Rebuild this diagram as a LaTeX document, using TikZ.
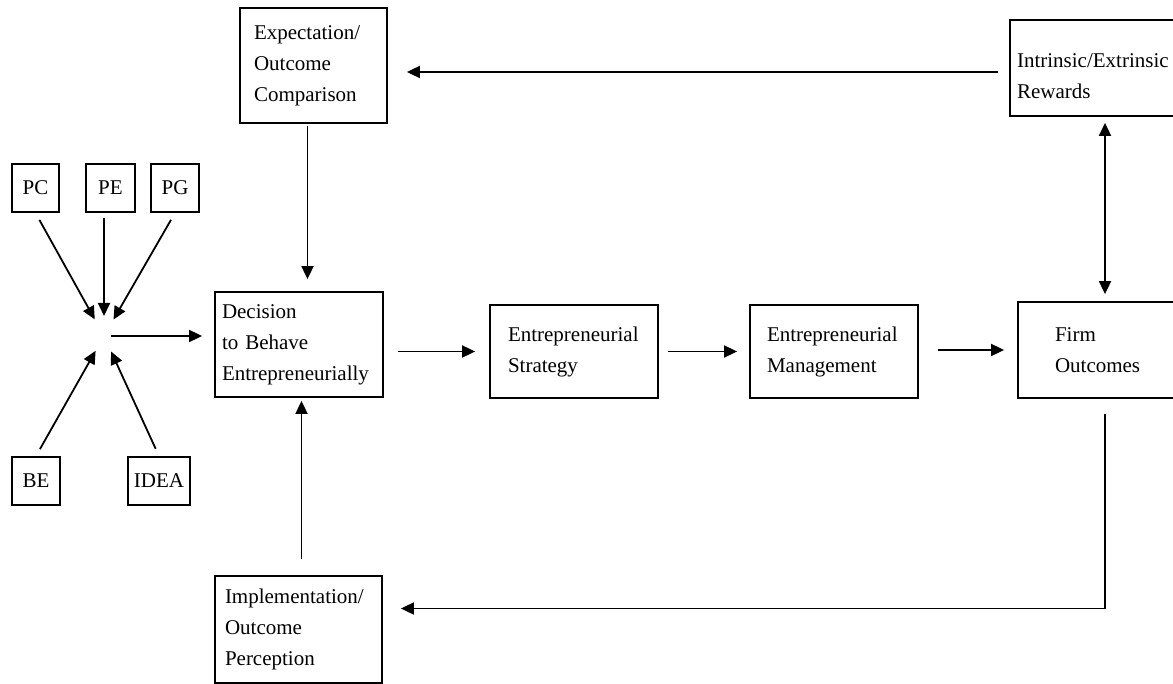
\documentclass[tikz,border=0pt]{standalone}
\usepackage{fontspec}
\setmainfont{Liberation Serif}
\usetikzlibrary{arrows.meta}
\tikzset{
  box/.style={draw,line width=1.8pt,align=left,inner ysep=0pt,font=\fontsize{21}{31}\selectfont},
  small/.style={draw,line width=1.8pt,inner sep=0pt,minimum height=48pt,font=\fontsize{21}{25}\selectfont},
}
\begin{document}
\begin{tikzpicture}[x=1pt,y=-1pt,>={Triangle[length=13pt,width=12pt]},line width=1.8pt]
\useasboundingbox (0,0) rectangle (1173,684);
\node[small,minimum width=47pt] (pc) at (35.5,188){PC};
\node[small,minimum width=49pt] (pe) at (110.5,188){PE};
\node[small,minimum width=48pt] (pg) at (175,188){PG};
\node[small,minimum width=48pt] (be) at (36,481){BE};
\node[small,minimum width=62pt] (idea) at (159,481){IDEA};
\coordinate (hub) at (104,336);
\node[box,minimum height=115pt,text width=119pt,inner xsep=14pt] (exp) at (313.5,65.5){Expectation/\\Outcome\\Comparison};
\node[box,minimum height=96pt,text width=176pt,inner xsep=7pt] (intr) at (1105,68){\mbox{}\\Intrinsic/Extrinsic\\Rewards};
\node[box,minimum height=105pt,text width=154pt,inner xsep=7pt] (dec) at (299,344.5){Decision\\to Behave\\Entrepreneurially};
\node[box,minimum height=93pt,text width=132pt,inner xsep=18pt] (strat) at (574,351.5){Entrepreneurial\\Strategy};
\node[box,minimum height=93pt,text width=134pt,inner xsep=17pt] (mgmt) at (834,351.5){Entrepreneurial\\Management};
\node[box,minimum height=96pt,text width=100pt,inner xsep=37pt] (firm) at (1105,350){Firm\\Outcomes};
\node[box,minimum height=107pt,text width=147pt,inner xsep=10pt] (impl) at (298.5,629.5){Implementation/\\Outcome\\Perception};

\draw[->,shorten <=8pt,shorten >=19pt](pc.south) -- (hub);
\draw[->,shorten <=5pt,shorten >=20pt](pe.south -| hub) -- (hub);
\draw[->,shorten <=8pt,shorten >=19pt](pg.south) -- (hub);
\draw[->,shorten <=8pt,shorten >=17pt](be.north) -- (hub);
\draw[->,shorten <=8pt,shorten >=17pt](idea.north) -- (hub);
\draw[->,shorten <=7pt,shorten >=12pt](hub) -- (hub -| dec.west);

\draw[->,shorten <=14pt,shorten >=14pt](dec.east |- strat.west) -- (strat.west);
\draw[->,shorten <=9pt,shorten >=12pt](strat) -- (mgmt);
\draw[->,shorten <=19pt,shorten >=13pt](mgmt.east |- firm.west) -- (firm.west);

\draw[->,shorten <=2pt,shorten >=12pt]([xshift=-6pt]exp.south) -- ([xshift=-6pt]exp.south |- dec.north);
\draw[->,shorten <=16pt,shorten >=3pt]([xshift=3pt]impl.north) -- ([xshift=3pt]impl.north |- dec.south);
\draw[->,shorten <=11pt,shorten >=19pt]([yshift=-4pt]intr.west) -- ([yshift=-4pt]intr.west -| exp.east);
\draw[->,shorten <=15pt,shorten >=18pt](firm.south) |- ([yshift=21pt]impl.east);
\draw[<->,shorten <=6pt,shorten >=7pt](intr.south) -- (firm.north);
\end{tikzpicture}
\end{document}
